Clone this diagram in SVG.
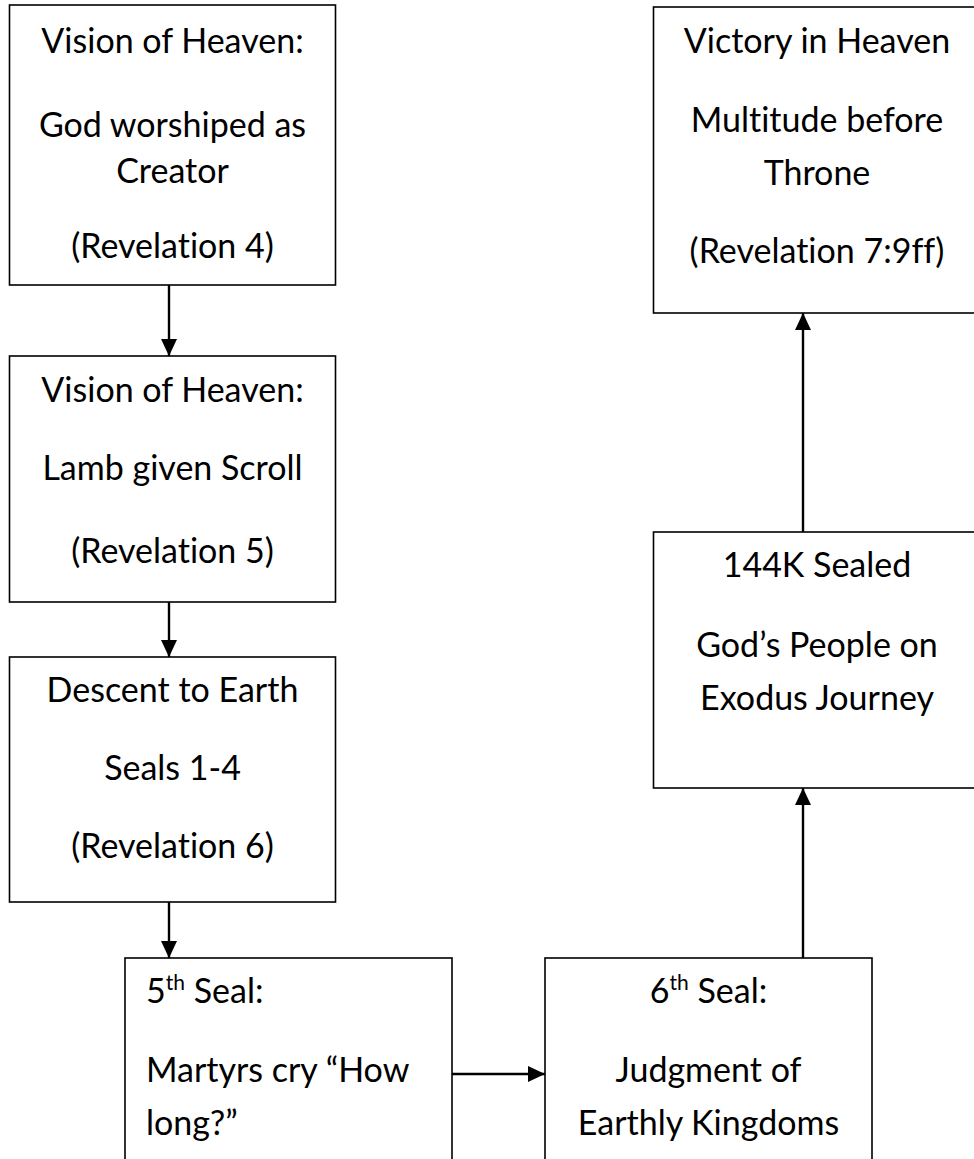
<svg xmlns="http://www.w3.org/2000/svg" width="974" height="1159" viewBox="0 0 974 1159">
<style>
.box{fill:#fff;stroke:#000;stroke-width:1.6}
.t{font-family:Lato,"Liberation Sans",sans-serif;font-size:34px;fill:#000;font-variant-ligatures:none;font-feature-settings:"liga" 0,"clig" 0}
.c{text-anchor:middle}
.sup{font-size:21px}
.conn{stroke:#000;stroke-width:2.4;fill:none}
</style>
<defs>
<marker id="ah" markerUnits="userSpaceOnUse" markerWidth="17" markerHeight="17" viewBox="0 0 17 17" refX="17" refY="8.5" orient="auto">
<path d="M0,0.5 L17,8.5 L0,16.5 Z" fill="#000"/>
</marker>
</defs>
<rect width="974" height="1159" fill="#fff"/>
<g id="n1">
<rect class="box" x="9.5" y="5" width="326" height="280"/>
<text class="t c" x="172.5" y="53">Vision of Heaven:</text>
<text class="t c" x="172.5" y="137">God worshiped as</text>
<text class="t c" x="172.5" y="183">Creator</text>
<text class="t c" x="172.5" y="258">(Revelation 4)</text>
</g>
<g id="n2">
<rect class="box" x="9.5" y="356" width="326" height="246"/>
<text class="t c" x="172.5" y="402">Vision of Heaven:</text>
<text class="t c" x="172.5" y="480">Lamb given Scroll</text>
<text class="t c" x="172.5" y="563">(Revelation 5)</text>
</g>
<g id="n3">
<rect class="box" x="9.5" y="657" width="326" height="245"/>
<text class="t c" x="172.5" y="702">Descent to Earth</text>
<text class="t c" x="172.5" y="780">Seals 1-4</text>
<text class="t c" x="172.5" y="858">(Revelation 6)</text>
</g>
<g id="n5">
<rect class="box" x="125" y="958" width="327" height="220"/>
<text class="t" x="146" y="1003">5<tspan class="sup" dy="-13">th</tspan><tspan dy="13"> Seal:</tspan></text>
<text class="t" x="146" y="1082">Martyrs cry “How</text>
<text class="t" x="146" y="1135">long?”</text>
</g>
<g id="n6">
<rect class="box" x="545" y="958" width="327" height="220"/>
<text class="t c" x="708.5" y="1003">6<tspan class="sup" dy="-13">th</tspan><tspan dy="13"> Seal:</tspan></text>
<text class="t c" x="708.5" y="1082">Judgment of</text>
<text class="t c" x="708.5" y="1135">Earthly Kingdoms</text>
</g>
<g id="n4">
<rect class="box" x="653.5" y="532" width="327" height="256"/>
<text class="t c" x="817" y="577">144K Sealed</text>
<text class="t c" x="817" y="657">God’s People on</text>
<text class="t c" x="817" y="710">Exodus Journey</text>
</g>
<g id="n7">
<rect class="box" x="653.5" y="7" width="327" height="306"/>
<text class="t c" x="817" y="53">Victory in Heaven</text>
<text class="t c" x="817" y="132">Multitude before</text>
<text class="t c" x="817" y="185">Throne</text>
<text class="t c" x="817" y="263">(Revelation 7:9ff)</text>
</g>
<g id="connectors">
<line class="conn" x1="169" y1="285" x2="169" y2="356" marker-end="url(#ah)"/>
<line class="conn" x1="169" y1="602" x2="169" y2="657" marker-end="url(#ah)"/>
<line class="conn" x1="169" y1="902" x2="169" y2="958" marker-end="url(#ah)"/>
<line class="conn" x1="452" y1="1074" x2="545" y2="1074" marker-end="url(#ah)"/>
<line class="conn" x1="803" y1="958" x2="803" y2="788" marker-end="url(#ah)"/>
<line class="conn" x1="803" y1="532" x2="803" y2="313" marker-end="url(#ah)"/>
</g>
</svg>
